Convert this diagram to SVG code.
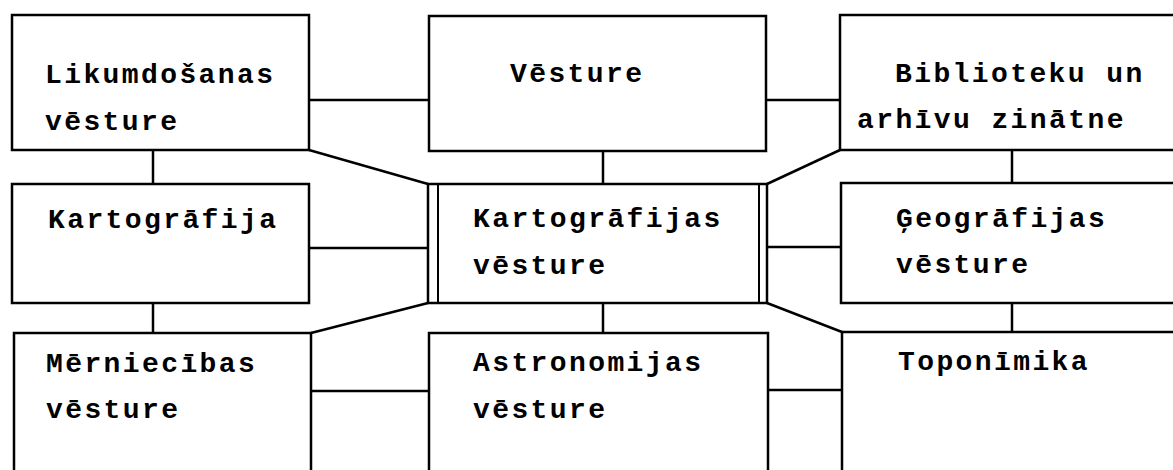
<svg xmlns="http://www.w3.org/2000/svg" width="1173" height="470" viewBox="0 0 1173 470">
<style>
.box{fill:none;stroke:#000;stroke-width:2.5;stroke-linejoin:miter}
.con line{stroke:#000;stroke-width:2.5}
text{font-family:"Liberation Mono","Courier New",monospace;font-weight:bold;font-size:28px;letter-spacing:2.4px;fill:#000}
</style>
<rect width="1173" height="470" fill="#fff"/>
<g id="connectors" class="con">
<line x1="309" y1="100" x2="429" y2="100"/>
<line x1="766" y1="100" x2="840" y2="100"/>
<line x1="153" y1="150" x2="153" y2="184"/>
<line x1="603" y1="151" x2="603" y2="184"/>
<line x1="1012" y1="150" x2="1012" y2="183"/>
<line x1="309" y1="150" x2="428" y2="184"/>
<line x1="840" y1="150" x2="767" y2="184"/>
<line x1="309" y1="248" x2="428" y2="248"/>
<line x1="767" y1="247" x2="841" y2="247"/>
<line x1="153" y1="303" x2="153" y2="333"/>
<line x1="603" y1="303" x2="603" y2="333"/>
<line x1="1012" y1="303" x2="1012" y2="332"/>
<line x1="311" y1="333" x2="428" y2="303"/>
<line x1="767" y1="303" x2="842" y2="332"/>
<line x1="311" y1="391" x2="429" y2="391"/>
<line x1="768" y1="390" x2="842" y2="390"/>
</g>
<g id="likumdosanas">
<rect class="box" x="12" y="15" width="297" height="135"/>
<text x="45" y="83">Likumdošanas</text>
<text x="45" y="130">vēsture</text>
</g>
<g id="vesture">
<rect class="box" x="429" y="16" width="337" height="135"/>
<text x="510" y="82">Vēsture</text>
</g>
<g id="biblioteku">
<path class="box" d="M1175,15 H840 V150 H1175"/>
<text x="895" y="82">Biblioteku un</text>
<text x="857" y="128">arhīvu zinātne</text>
</g>
<g id="kartografija">
<rect class="box" x="12" y="184" width="297" height="119"/>
<text x="48" y="228">Kartogrāfija</text>
</g>
<g id="kartografijas-vesture">
<rect class="box" x="428" y="184" width="339" height="119"/>
<line x1="438" y1="184" x2="438" y2="303" stroke="#000" stroke-width="2"/>
<line x1="759" y1="184" x2="759" y2="303" stroke="#000" stroke-width="2"/>
<text x="473" y="227">Kartogrāfijas</text>
<text x="473" y="274">vēsture</text>
</g>
<g id="geografijas">
<path class="box" d="M1175,183 H841 V303 H1175"/>
<text x="896" y="227">Ģeogrāfijas</text>
<text x="896" y="273">vēsture</text>
</g>
<g id="merniecibas">
<path class="box" d="M14,472 V333 H311 V472"/>
<text x="46" y="372">Mērniecības</text>
<text x="46" y="418">vēsture</text>
</g>
<g id="astronomijas">
<path class="box" d="M429,472 V333 H768 V472"/>
<text x="473" y="371">Astronomijas</text>
<text x="473" y="418">vēsture</text>
</g>
<g id="toponimika">
<path class="box" d="M1175,332 H842 V472"/>
<text x="898" y="370">Toponīmika</text>
</g>
</svg>
